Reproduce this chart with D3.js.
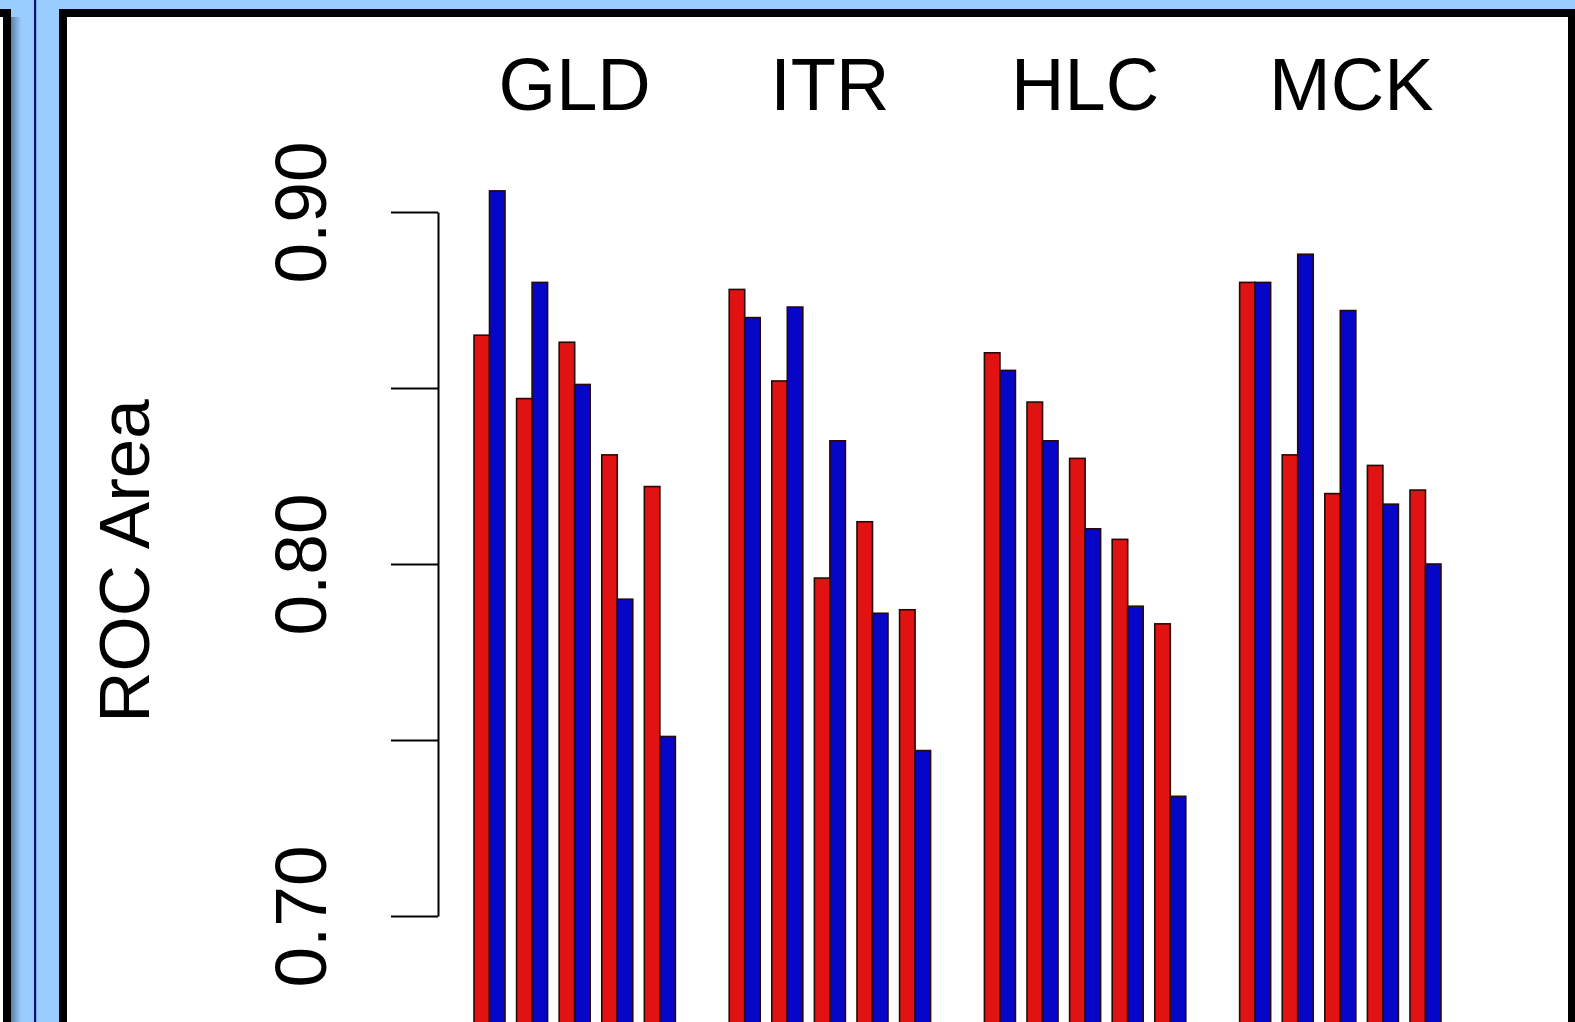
<!DOCTYPE html>
<html>
<head>
<meta charset="utf-8">
<script src="https://cdn.jsdelivr.net/npm/d3@7"></script>
<style>
  body { margin: 0; background: #99ccff; overflow: hidden; }
  text { font-family: "Liberation Sans", Arial, sans-serif; fill: #000; }
</style>
</head>
<body>
<script>
// ROC area per data set, two methods (red, blue) x five settings
const groups = ["GLD", "ITR", "HLC", "MCK"];
const settings = ["s1", "s2", "s3", "s4", "s5"];
const seriesNames = ["red", "blue"];
const redValues = [
  [0.865, 0.847, 0.863, 0.831, 0.822],
  [0.878, 0.852, 0.796, 0.812, 0.787],
  [0.860, 0.846, 0.830, 0.807, 0.783],
  [0.880, 0.831, 0.820, 0.828, 0.821]
];
const blueValues = [
  [0.906, 0.880, 0.851, 0.790, 0.751],
  [0.870, 0.873, 0.835, 0.786, 0.747],
  [0.855, 0.835, 0.810, 0.788, 0.734],
  [0.880, 0.888, 0.872, 0.817, 0.800]
];
const yTicks = [0.70, 0.75, 0.80, 0.85, 0.90];
const yTickLabels = ["0.70", "", "0.80", "", "0.90"];

const W = 1575, H = 1022;
const colors = { red: "#e01212", blue: "#0606c8" };

const svg = d3.select("body").append("svg")
    .attr("width", W)
    .attr("height", H);

// page frame: light blue backdrop, neighbouring box, divider, chart box
let defs = svg.append("defs");
let grad = defs.append("linearGradient").attr("id", "shade");
grad.append("stop").attr("offset", "0%").attr("stop-color", "#5f7fa3");
grad.append("stop").attr("offset", "100%").attr("stop-color", "#99ccff");

svg.append("rect").attr("width", W).attr("height", H).attr("fill", "#99ccff");
svg.append("rect").attr("x", -20).attr("y", 13).attr("width", 27).attr("height", H)
  .attr("fill", "#fff").attr("stroke", "#000").attr("stroke-width", 8);
svg.append("rect").attr("x", 11).attr("y", 17).attr("width", 10).attr("height", H)
  .attr("fill", "url(#shade)");
svg.append("rect").attr("x", 34).attr("y", 0).attr("width", 2.2).attr("height", H)
  .attr("fill", "#0a0a80");
svg.append("rect").attr("x", 63).attr("y", 13).attr("width", 1509).attr("height", H + 20)
  .attr("fill", "#fff").attr("stroke", "#000").attr("stroke-width", 8);

// scales
let y = d3.scaleLinear()
    .domain([0.70, 0.90])
    .range([916, 212]);
let x0 = d3.scaleBand()
    .domain(groups)
    .range([474, 1441])
    .paddingInner(0.211);
let x1 = d3.scaleBand()
    .domain(settings)
    .range([0, x0.bandwidth()])
    .paddingInner(0.272);
let x2 = d3.scaleBand()
    .domain(seriesNames)
    .range([0, x1.bandwidth()]);

let bars = [];
groups.forEach((g, gi) => {
  settings.forEach((s, si) => {
    bars.push({ g: g, s: s, series: "red", v: redValues[gi][si] });
    bars.push({ g: g, s: s, series: "blue", v: blueValues[gi][si] });
  });
});

svg.append("g")
  .selectAll("rect")
  .data(bars)
  .enter()
  .append("rect")
  .attr("x", d => x0(d.g) + x1(d.s) + x2(d.series))
  .attr("width", x2.bandwidth())
  .attr("y", d => y(d.v))
  .attr("height", d => y(0.6) - y(d.v))
  .attr("fill", d => colors[d.series])
  .attr("stroke", "#2a0808")
  .attr("stroke-width", 1.6);

// group labels (the last one sits a bit right of its bars in the original)
svg.append("g")
  .selectAll("text")
  .data(groups)
  .enter()
  .append("text")
  .attr("x", d => x0(d) + x0.bandwidth() / 2)
  .attr("dx", (d, i) => i === groups.length - 1 ? 11 : 0)
  .attr("y", 110)
  .attr("text-anchor", "middle")
  .attr("font-size", 74)
  .attr("transform-origin", "center")
  .text(d => d);

// y axis, R style
let axis = d3.axisLeft(y)
    .tickValues(yTicks)
    .tickSize(47)
    .tickSizeOuter(0)
    .tickFormat((d, i) => yTickLabels[i]);
let axisGroup = svg.append("g")
    .attr("transform", "translate(438,0)")
    .call(axis);
axisGroup.select(".domain").attr("stroke", "#000").attr("stroke-width", 2);
axisGroup.selectAll(".tick line").attr("stroke", "#000").attr("stroke-width", 2);
axisGroup.selectAll(".tick text")
  .attr("x", null)
  .attr("dy", null)
  .attr("transform", "translate(-112,0) rotate(-90)")
  .attr("text-anchor", "middle")
  .attr("font-size", 73)
  .attr("font-family", "Liberation Sans, Arial, sans-serif")
  .attr("fill", "#000");

svg.append("text")
  .attr("transform", "translate(149,561) rotate(-90)")
  .attr("text-anchor", "middle")
  .attr("font-size", 71)
  .text("ROC Area");
</script>
</body>
</html>
